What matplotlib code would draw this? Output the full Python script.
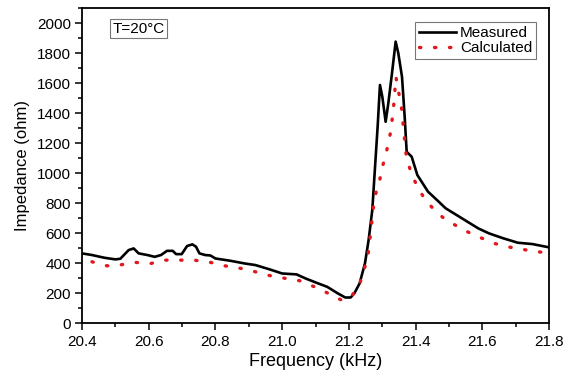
import numpy as np
import matplotlib.pyplot as plt
from matplotlib.ticker import MultipleLocator

plt.rcParams['font.family'] = ['Liberation Sans', 'DejaVu Sans']

# measured impedance (ohm) vs frequency (kHz)
freq_meas = [20.40, 20.43, 20.467, 20.50, 20.515, 20.54, 20.555, 20.57, 20.596, 20.618,
             20.637, 20.655, 20.672, 20.682, 20.699, 20.715, 20.731, 20.742, 20.752, 20.769,
             20.785, 20.80, 20.844, 20.887, 20.92, 20.963, 21.00, 21.043, 21.07, 21.103,
             21.135, 21.167, 21.189, 21.205, 21.216, 21.232, 21.248, 21.259, 21.27, 21.277,
             21.286, 21.293, 21.30, 21.31, 21.318, 21.329, 21.34, 21.348, 21.359, 21.367,
             21.373, 21.388, 21.405, 21.437, 21.464, 21.49, 21.523, 21.555, 21.588, 21.62,
             21.663, 21.706, 21.75, 21.80]
imp_meas = [467, 456, 438, 427, 431, 489, 500, 467, 456, 444,
            456, 484, 484, 462, 462, 516, 527, 511, 467, 456,
            453, 433, 418, 400, 389, 360, 333, 327, 300, 271,
            244, 200, 173, 173, 200, 267, 400, 556, 756, 1000,
            1311, 1589, 1511, 1344, 1467, 1667, 1878, 1800, 1644, 1378,
            1144, 1111, 989, 878, 822, 767, 722, 678, 633, 600,
            567, 538, 529, 507]

# calculated impedance
freq_calc = [20.43, 20.475, 20.512, 20.558, 20.607, 20.645, 20.693, 20.736, 20.785, 20.828,
             20.876, 20.92, 20.968, 21.011, 21.054, 21.097, 21.135, 21.18, 21.21, 21.232,
             21.248, 21.258, 21.266, 21.274, 21.282, 21.291, 21.30, 21.313, 21.326, 21.334,
             21.341, 21.346, 21.356, 21.363, 21.371, 21.386, 21.406, 21.426, 21.448, 21.48,
             21.518, 21.555, 21.593, 21.636, 21.685, 21.733, 21.782]
imp_calc = [411, 384, 389, 407, 400, 422, 422, 422, 407, 384,
            367, 344, 316, 300, 284, 244, 204, 153, 189, 262,
            378, 470, 620, 787, 880, 942, 1040, 1150, 1287, 1450,
            1642, 1564, 1476, 1309, 1133, 1000, 909, 833, 776, 709,
            656, 611, 573, 533, 507, 489, 473]

fig = plt.figure(figsize=(5.65, 3.77), dpi=100)
ax = fig.add_axes([0.145, 0.142, 0.827, 0.836])

ax.plot(freq_meas, imp_meas, color='black', lw=1.9, label='Measured')
ax.plot(freq_calc, imp_calc, color='#e3161c', lw=2.4, linestyle=(0, (0.4, 4.1)),
        dash_capstyle='round', label='Calculated')

ax.set_xlim(20.4, 21.8)
ax.set_ylim(0, 2100)
ax.xaxis.set_minor_locator(MultipleLocator(0.1))
ax.yaxis.set_major_locator(MultipleLocator(200))
ax.yaxis.set_minor_locator(MultipleLocator(100))
ax.set_xticks(np.arange(20.4, 21.81, 0.2))
ax.set_xticklabels(['20.4', '20.6', '20.8', '21.0', '21.2', '21.4', '21.6', '21.8'])
ax.tick_params(which='both', direction='out', labelsize=11, width=1.1, pad=3)
ax.tick_params(which='major', length=5)
ax.tick_params(which='minor', length=3)
for s in ax.spines.values():
    s.set_linewidth(1.3)

ax.set_xlabel('Frequency (kHz)', fontsize=13, labelpad=3)
ax.set_ylabel('Impedance (ohm)', fontsize=12, labelpad=5)

ax.text(0.066, 0.935, 'T=20°C', transform=ax.transAxes, fontsize=11,
        va='center', ha='left',
        bbox=dict(boxstyle='square,pad=0.15', fc='white', ec='#777777', lw=0.8))

leg = ax.legend(loc='upper left', bbox_to_anchor=(0.713, 0.955), fontsize=11,
                frameon=True, fancybox=False, edgecolor='#555555', borderaxespad=0,
                handlelength=2.4, handletextpad=0.3, borderpad=0.25, labelspacing=0.05)
leg.get_frame().set_linewidth(0.8)

fig.savefig('out.png', dpi=100)
